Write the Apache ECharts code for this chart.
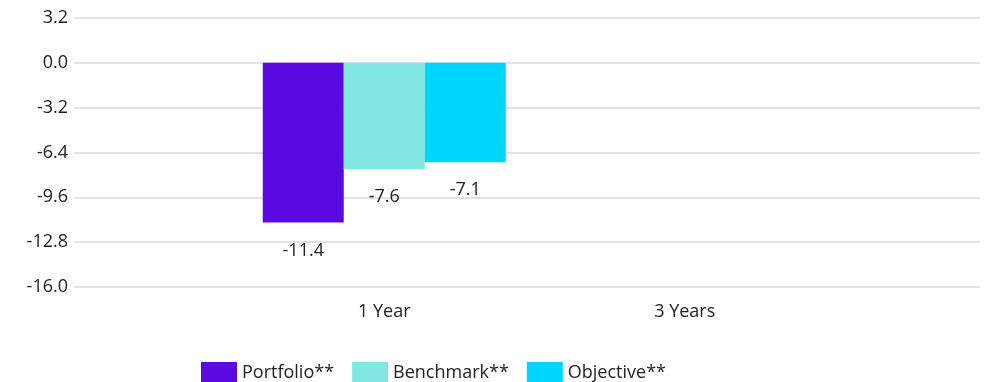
<!DOCTYPE html>
<html>
<head>
<meta charset="utf-8">
<script src="https://cdn.jsdelivr.net/npm/echarts@6/dist/echarts.min.js"></script>
<style>
  html, body { margin: 0; padding: 0; background: #fff; }
  #chart { width: 985px; height: 382px; }
</style>
</head>
<body>
<div id="chart"></div>
<script>
// data
const categories = ['1 Year', '3 Years']
const portfolio = [-11.4, null]
const benchmark = [-7.6, null]
const objective = [-7.1, null]
const yMin = -16
const yMax = 3.2
const yStep = 3.2

const font = '"Open Sans", Lato, sans-serif'
const chart = echarts.init(document.getElementById('chart'))

const label = {
  show: true,
  position: 'bottom',
  distance: 19,
  color: '#222',
  fontSize: 18,
  fontFamily: font,
  formatter: (p) => p.value.toFixed(1),
}

chart.setOption({
  animation: false,
  legend: {
    left: 196,
    top: 357,
    itemWidth: 36,
    itemHeight: 22,
    itemGap: 18,
    icon: 'rect',
    textStyle: { color: '#222', fontSize: 18, fontFamily: font },
    data: ['Portfolio**', 'Benchmark**', 'Objective**'],
  },
  // grid 0 draws the full-width gridlines, grid 1 holds the bars
  grid: [
    { left: 74, right: 5, top: 18, bottom: 95 },
    { left: 234, right: 150, top: 18, bottom: 95 },
  ],
  xAxis: [
    { gridIndex: 0, type: 'category', data: categories, show: false },
    {
      gridIndex: 1,
      type: 'category',
      data: categories,
      axisLine: { show: false },
      axisTick: { show: false },
      axisLabel: { color: '#222', fontSize: 18, fontFamily: font, margin: 16 },
    },
  ],
  yAxis: [
    {
      gridIndex: 0,
      type: 'value',
      min: yMin,
      max: yMax,
      interval: yStep,
      axisLabel: {
        color: '#222',
        fontSize: 18,
        fontFamily: font,
        margin: 6,
        formatter: (v) => v.toFixed(1),
      },
      splitLine: { lineStyle: { color: '#d9d9d9', width: 1.5 } },
      axisLine: { show: false },
      axisTick: { show: false },
    },
    {
      gridIndex: 1,
      type: 'value',
      min: yMin,
      max: yMax,
      interval: yStep,
      show: false,
      splitLine: { show: false },
    },
  ],
  series: [
    {
      name: 'Portfolio**',
      type: 'bar',
      xAxisIndex: 1,
      yAxisIndex: 1,
      data: portfolio,
      barWidth: 81,
      barGap: '0%',
      itemStyle: { color: '#5a0ae0' },
      label,
    },
    {
      name: 'Benchmark**',
      type: 'bar',
      xAxisIndex: 1,
      yAxisIndex: 1,
      data: benchmark,
      barWidth: 81,
      barGap: '0%',
      itemStyle: { color: '#80e8e0' },
      label,
    },
    {
      name: 'Objective**',
      type: 'bar',
      xAxisIndex: 1,
      yAxisIndex: 1,
      data: objective,
      barWidth: 81,
      barGap: '0%',
      itemStyle: { color: '#00d5ff' },
      label,
    },
  ],
})
</script>
</body>
</html>
